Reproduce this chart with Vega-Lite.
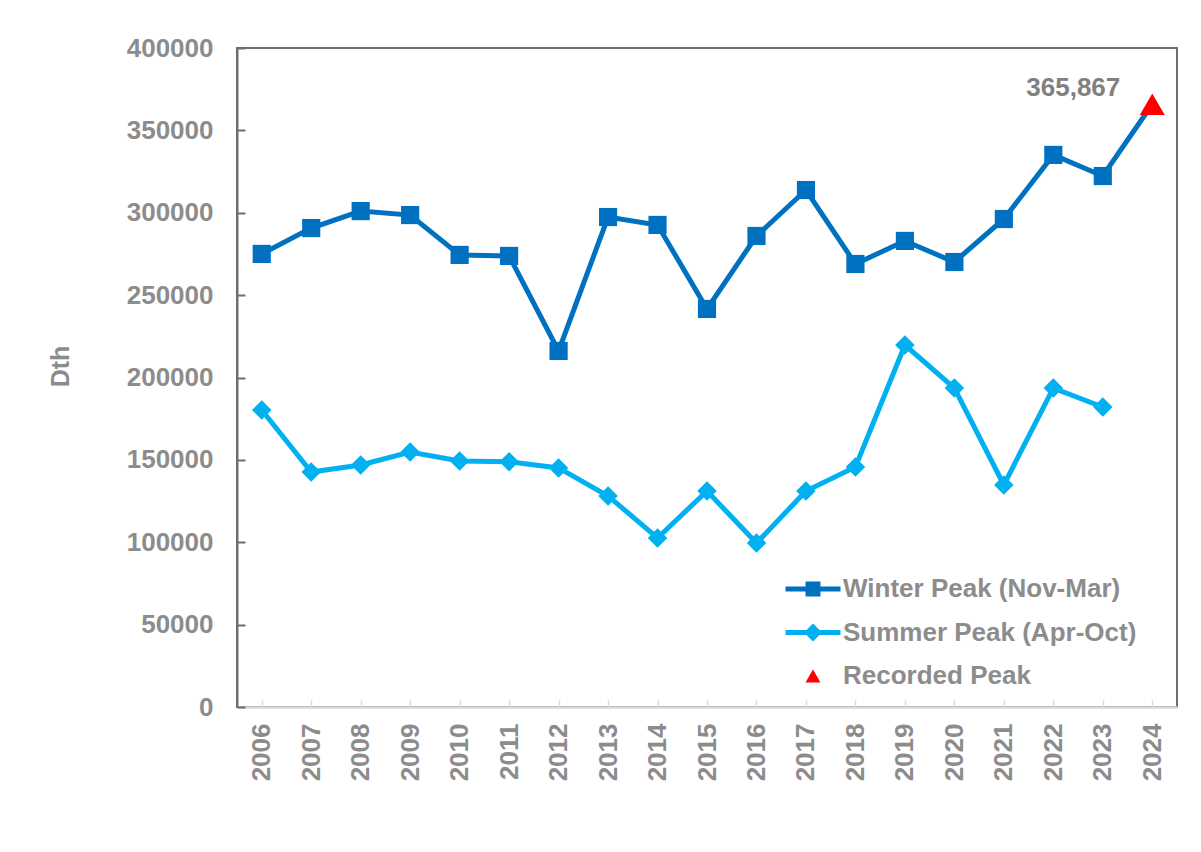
{
  "$schema": "https://vega.github.io/schema/vega-lite/v6.json",
  "width": 940,
  "height": 659,
  "autosize": {"type": "none"},
  "padding": {"left": 237, "top": 48, "right": 24, "bottom": 145},
  "background": "white",
  "config": {
    "font": "Liberation Sans",
    "view": {"stroke": "#6f6f6f", "strokeWidth": 2},
    "axis": {"grid": false, "labelFont": "Liberation Sans", "labelFontWeight": "bold", "labelColor": "#8c8c8c", "titleFont": "Liberation Sans", "titleFontWeight": "bold", "titleColor": "#8c8c8c"},
    "legend": {"labelFont": "Liberation Sans", "labelFontWeight": "bold", "labelColor": "#8c8c8c"}
  },
  "data": {
    "values": [
      {"year": "2006", "series": "Winter Peak (Nov-Mar)", "value": 275000},
      {"year": "2007", "series": "Winter Peak (Nov-Mar)", "value": 290700},
      {"year": "2008", "series": "Winter Peak (Nov-Mar)", "value": 301000},
      {"year": "2009", "series": "Winter Peak (Nov-Mar)", "value": 298600},
      {"year": "2010", "series": "Winter Peak (Nov-Mar)", "value": 274400},
      {"year": "2011", "series": "Winter Peak (Nov-Mar)", "value": 273800},
      {"year": "2012", "series": "Winter Peak (Nov-Mar)", "value": 216100},
      {"year": "2013", "series": "Winter Peak (Nov-Mar)", "value": 297400},
      {"year": "2014", "series": "Winter Peak (Nov-Mar)", "value": 292600},
      {"year": "2015", "series": "Winter Peak (Nov-Mar)", "value": 241600},
      {"year": "2016", "series": "Winter Peak (Nov-Mar)", "value": 285900},
      {"year": "2017", "series": "Winter Peak (Nov-Mar)", "value": 313800},
      {"year": "2018", "series": "Winter Peak (Nov-Mar)", "value": 268900},
      {"year": "2019", "series": "Winter Peak (Nov-Mar)", "value": 282900},
      {"year": "2020", "series": "Winter Peak (Nov-Mar)", "value": 270100},
      {"year": "2021", "series": "Winter Peak (Nov-Mar)", "value": 296200},
      {"year": "2022", "series": "Winter Peak (Nov-Mar)", "value": 335100},
      {"year": "2023", "series": "Winter Peak (Nov-Mar)", "value": 322300},
      {"year": "2024", "series": "Winter Peak (Nov-Mar)", "value": 365867},
      {"year": "2006", "series": "Summer Peak (Apr-Oct)", "value": 180300},
      {"year": "2007", "series": "Summer Peak (Apr-Oct)", "value": 142600},
      {"year": "2008", "series": "Summer Peak (Apr-Oct)", "value": 146900},
      {"year": "2009", "series": "Summer Peak (Apr-Oct)", "value": 154800},
      {"year": "2010", "series": "Summer Peak (Apr-Oct)", "value": 149300},
      {"year": "2011", "series": "Summer Peak (Apr-Oct)", "value": 148900},
      {"year": "2012", "series": "Summer Peak (Apr-Oct)", "value": 145100},
      {"year": "2013", "series": "Summer Peak (Apr-Oct)", "value": 128100},
      {"year": "2014", "series": "Summer Peak (Apr-Oct)", "value": 102600},
      {"year": "2015", "series": "Summer Peak (Apr-Oct)", "value": 131100},
      {"year": "2016", "series": "Summer Peak (Apr-Oct)", "value": 99500},
      {"year": "2017", "series": "Summer Peak (Apr-Oct)", "value": 131100},
      {"year": "2018", "series": "Summer Peak (Apr-Oct)", "value": 145700},
      {"year": "2019", "series": "Summer Peak (Apr-Oct)", "value": 219700},
      {"year": "2020", "series": "Summer Peak (Apr-Oct)", "value": 193600},
      {"year": "2021", "series": "Summer Peak (Apr-Oct)", "value": 134800},
      {"year": "2022", "series": "Summer Peak (Apr-Oct)", "value": 193600},
      {"year": "2023", "series": "Summer Peak (Apr-Oct)", "value": 182100},
      {"year": "2024", "series": "Recorded Peak", "value": 365867}
    ]
  },
  "encoding": {
    "x": {
      "field": "year", "type": "ordinal", "title": null,
      "axis": {"labelAngle": -90, "labelFontSize": 26, "labelPadding": 23, "tickSize": -7, "tickColor": "#d9d9d9", "tickWidth": 1.5, "domainColor": "#d9d9d9", "domainWidth": 2.5}
    },
    "y": {
      "field": "value", "type": "quantitative", "title": "Dth",
      "scale": {"domain": [0, 400000], "nice": false},
      "axis": {"values": [0, 50000, 100000, 150000, 200000, 250000, 300000, 350000, 400000], "format": "d", "labelFontSize": 26, "labelPadding": 32, "tickSize": -8, "tickColor": "#6f6f6f", "tickWidth": 2, "domainColor": "#6f6f6f", "domainWidth": 2, "titleFontSize": 25, "titleX": -177, "titleY": 318, "titleAngle": -90, "titleAlign": "center", "titleBaseline": "middle"}
    }
  },
  "layer": [
    {
      "transform": [{"filter": "datum.series != 'Recorded Peak'"}],
      "mark": {"type": "line", "strokeWidth": 5},
      "encoding": {
        "color": {"field": "series", "type": "nominal", "legend": null,
          "scale": {"domain": ["Winter Peak (Nov-Mar)", "Summer Peak (Apr-Oct)"], "range": ["#0070C0", "#00B0F0"]}}
      }
    },
    {
      "transform": [{"filter": "datum.series == 'Winter Peak (Nov-Mar)' && datum.year != '2024'"}],
      "mark": {"type": "point", "shape": "square", "filled": true, "color": "#0070C0", "size": 330, "opacity": 1},
      "encoding": {}
    },
    {
      "transform": [{"filter": "datum.series == 'Summer Peak (Apr-Oct)'"}],
      "mark": {"type": "point", "shape": "diamond", "filled": true, "color": "#00B0F0", "size": 380, "opacity": 1},
      "encoding": {}
    },
    {
      "transform": [{"filter": "datum.series == 'Recorded Peak'"}],
      "mark": {"type": "point", "shape": "triangle-up", "filled": true, "color": "#FF0000", "size": 625, "opacity": 1},
      "encoding": {}
    },
    {
      "transform": [{"filter": "datum.series == 'Recorded Peak'"}],
      "mark": {"type": "text", "align": "right", "baseline": "middle", "dx": -32, "dy": -16, "fontSize": 26, "fontWeight": "bold", "color": "#808080"},
      "encoding": {"text": {"field": "value", "type": "quantitative", "format": ","}}
    },
    {
      "mark": {"type": "point", "filled": true, "size": 0, "opacity": 1},
      "encoding": {
        "fill": {"field": "series", "type": "nominal",
          "scale": {"domain": ["Winter Peak (Nov-Mar)", "Summer Peak (Apr-Oct)", "Recorded Peak"], "range": ["#0070C0", "#00B0F0", "#FF0000"]},
          "legend": {"title": null, "orient": "none", "legendX": 563, "legendY": 528, "padding": 0, "symbolSize": 400, "symbolStrokeWidth": 0, "labelFontSize": 26, "labelOffset": 17, "rowPadding": 17.5, "labelLimit": 400}},
        "shape": {"field": "series", "type": "nominal",
          "scale": {"domain": ["Winter Peak (Nov-Mar)", "Summer Peak (Apr-Oct)", "Recorded Peak"], "range": ["M-2.75,-0.25H2.75V0.25H-2.75Z M-0.75,-0.75H0.75V0.75H-0.75Z", "M-2.75,-0.25H2.75V0.25H-2.75Z M0,-0.9L0.9,0L0,0.9L-0.9,0Z", "M0,-0.65L0.75,0.65L-0.75,0.65Z"]},
          "legend": {"title": null}}
      }
    }
  ]
}
